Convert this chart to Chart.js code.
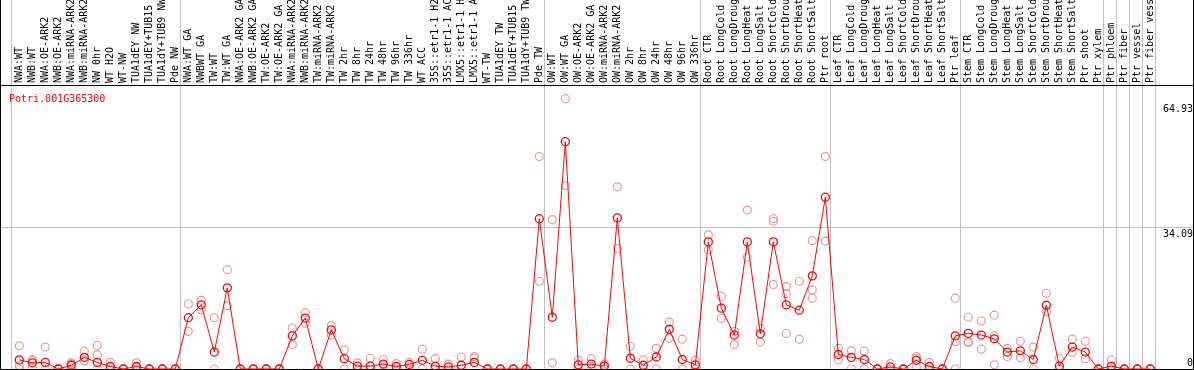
<!DOCTYPE html>
<html>
<head>
<meta charset="utf-8">
<script src="https://cdn.jsdelivr.net/npm/chart.js@4.4.0/dist/chart.umd.min.js"></script>
<style>
  body { margin: 0; background: #fff; }
  canvas { display: block; }
</style>
</head>
<body>
<canvas id="myChart" width="1194" height="370"></canvas>
<script>
const geneId = "Potri.001G365300";

const categories = [
    "NWA:WT", "NWB:WT", "NWA:OE-ARK2", "NWB:OE-ARK2", "NWA:miRNA-ARK2", "NWB:miRNA-ARK2",
    "NW 0hr", "WT H2O", "WT-NW", "TUA1dEY NW", "TUA1dEY+TUB15", "TUA1dY+TUB9 NW", "Pde NW",
    "NWA:WT GA", "NWBWT GA", "TW:WT", "TW:WT GA", "NWA:OE-ARK2 GA", "NWB:OE-ARK2 GA",
    "TW:OE-ARK2", "TW:OE-ARK2 GA", "NWA:miRNA-ARK2", "NWB:miRNA-ARK2", "TW:miRNA-ARK2",
    "TW:miRNA-ARK2", "TW 2hr", "TW 8hr", "TW 24hr", "TW 48hr", "TW 96hr", "TW 336hr",
    "WT ACC", "35S::etr1-1 H2", "35S::etr1-1 AC", "LMX5::etr1-1 H", "LMX5::etr1-1 A",
    "WT-TW", "TUA1dEY TW", "TUA1dEY+TUB15", "TUA1dY+TUB9 TW", "Pde TW",
    "OW:WT", "OW:WT GA", "OW:OE-ARK2", "OW:OE-ARK2 GA", "OW:miRNA-ARK2", "OW:miRNA-ARK2",
    "OW 2hr", "OW 8hr", "OW 24hr", "OW 48hr", "OW 96hr", "OW 336hr",
    "Root CTR", "Root LongCold", "Root LongDroug", "Root LongHeat", "Root LongSalt",
    "Root ShortCold", "Root ShortDrou", "Root ShortHeat", "Root ShortSalt", "Ptr root",
    "Leaf CTR", "Leaf LongCold", "Leaf LongDroug", "Leaf LongHeat", "Leaf LongSalt",
    "Leaf ShortCold", "Leaf ShortDrou", "Leaf ShortHeat", "Leaf ShortSalt", "Ptr leaf",
    "Stem CTR", "Stem LongCold", "Stem LongDroug", "Stem LongHeat", "Stem LongSalt",
    "Stem ShortCold", "Stem ShortDrou", "Stem ShortHeat", "Stem ShortSalt", "Ptr shoot",
    "Ptr xylem", "Ptr phloem", "Ptr fiber", "Ptr vessel", "Ptr fiber vess"
];

// mean expression (red line)
const means = [
    2.2, 1.5, 1.6, 0, 0.9, 2.8, 1.6, 0.6, 0, 0.6, 0, 0, 0,
    12.4, 15.5, 4.1, 19.6, 0, 0, 0, 0, 8.0, 12.3, 0, 9.45,
    2.5, 0.7, 0.7, 1.2, 0.6, 1.1, 2.1, 0.7, 0.5, 0.9, 1.6, 0, 0, 0, 0, 36.3,
    12.5, 54.9, 1.0, 1.2, 0.7, 36.5, 2.6, 0.9, 2.9, 9.6, 2.3, 1.0,
    30.7, 14.7, 8.2, 30.7, 8.5, 30.7, 15.5, 14.2, 22.5, 41.5,
    3.5, 2.8, 2.3, 0, 0.5, 0, 2.1, 0.6, 0, 8.0,
    8.6, 8.2, 7.3, 4.1, 4.4, 2.3, 15.4, 0.7, 5.3, 4.1,
    0, 0.7, 0, 0, 0
];

// replicates (light circles)
const rep1 = [
    5.6, 2.3, 5.3, 0, 1.5, 4.3, 5.7, 1.6, 0, 1.5, 0, 0, 0,
    15.7, 16.6, 12.4, 24.0, 0, 0, 0, 0, 9.9, 13.6, 0, 10.5,
    4.6, 1.5, 2.6, 2.3, 1.3, 1.6, 4.8, 2.5, 1.2, 2.9, 3.0, 0, 0, 0, 0, 51.3,
    36.1, 65.3, 2.2, 2.5, 1.2, 44.0, 5.5, 2.2, 5.0, 11.3, 7.2, 2.1,
    32.4, 17.6, 9.1, 38.4, 9.8, 36.3, 19.9, 21.2, 31.0, 51.3,
    5.0, 4.4, 4.3, 0, 1.3, 0, 3.0, 1.6, 0, 17.1,
    12.5, 11.6, 13.0, 5.0, 6.7, 5.3, 18.3, 2.6, 7.2, 6.7,
    0, 2.2, 0, 0, 0
];
const rep2 = [
    0.8, 2.0, 0, 0, 1.2, 2.0, 3.4, 0, 0, 0.5, 0, 0, 0,
    9.1, 14.3, 0, 15.3, 0, 0, 0, 0, 5.9, 11.1, 0, 8.2,
    0, 0, 0, 1.0, 0, 0.5, 0, 0, 0, 0, 2.6, 0, 0, 0, 0, 21.2,
    1.5, 44.3, 0, 0, 0, 29.1, 0, 0, 0, 7.4, 0, 0,
    28.8, 12.2, 5.9, 27.0, 6.5, 20.4, 8.6, 7.2, 17.1, 30.9,
    2.2, 0, 0, 0, 0, 0, 2.6, 0, 0, 6.6,
    6.6, 4.8, 1.0, 3.0, 2.7, 0, 13.9, 0, 4.0, 2.5,
    0, 0, 0, 0, 0
];
const rep3 = [
    0, 0.3, null, null, 0, 2.0, 0, null, null, 0, null, null, null,
    null, null, null, null, null, null, null, null, null, null, null, null,
    null, null, null, null, null, null, null, null, null, null, null, null, null, null, null, null,
    null, null, null, null, null, null, null, null, null, null, null, null,
    null, null, null, null, null, 35.7, 18.2, null, 19.1, null,
    null, null, null, null, null, null, 0.5, null, null, 0,
    6.3, null, 8.0, null, null, null, null, null, null, null,
    null, null, null, null, null
];

const yTicks = [0, 34.09, 64.93];
const groupStarts = [0, 13, 41, 53, 63, 73, 84, 85, 86, 87, 88];

const toPoints = arr => arr.map((v, i) => ({ x: i, y: v }));

const framePlugin = {
    id: "frame",
    beforeDraw(chart) {
        const ctx = chart.ctx;
        const xs = chart.scales.x;
        const area = chart.chartArea;
        ctx.save();
        ctx.strokeStyle = "#c0c0c0";
        ctx.lineWidth = 1;
        groupStarts.forEach(i => {
            const px = Math.round(xs.getPixelForValue(i - 0.62)) + 0.5;
            ctx.beginPath();
            ctx.moveTo(px, 0);
            ctx.lineTo(px, area.bottom);
            ctx.stroke();
        });
        ctx.restore();
    },
    afterDraw(chart) {
        const ctx = chart.ctx;
        const ys = chart.scales.y;
        const area = chart.chartArea;
        const W = chart.width;
        ctx.save();
        ctx.font = "10px 'DejaVu Sans Mono'";

        // gene name
        ctx.fillStyle = "#ff0000";
        ctx.textAlign = "left";
        ctx.textBaseline = "alphabetic";
        ctx.fillText(geneId, 9, area.top + 17);

        // value labels on the right
        ctx.fillStyle = "#000";
        ctx.textAlign = "right";
        yTicks.forEach(v => {
            let y = ys.getPixelForValue(v) + 9;
            y = Math.min(Math.max(y, area.top + 27), area.bottom - 3);
            ctx.fillText(String(v), W - 1, y);
        });

        // frame
        ctx.strokeStyle = "#000";
        ctx.lineWidth = 1;
        ctx.beginPath();
        ctx.moveTo(0.5, 0); ctx.lineTo(0.5, chart.height);
        ctx.moveTo(W - 0.5, 0); ctx.lineTo(W - 0.5, chart.height);
        ctx.moveTo(0, area.top + 0.5); ctx.lineTo(W, area.top + 0.5);
        ctx.moveTo(0, area.bottom + 0.5); ctx.lineTo(W, area.bottom + 0.5);
        ctx.stroke();
        ctx.restore();
    }
};

Chart.defaults.font.family = "'DejaVu Sans Mono'";
Chart.defaults.font.size = 10;

const repStyle = {
    showLine: false,
    pointRadius: 4,
    pointBorderWidth: 1.2,
    pointBorderColor: "#e89a9a",
    pointBackgroundColor: "rgba(0,0,0,0)",
    pointHoverRadius: 4
};

const ctx = document.getElementById("myChart").getContext("2d");
const chart = new Chart(ctx, {
    type: "line",
    data: {
        datasets: [
            {
                label: "mean",
                data: toPoints(means),
                borderColor: "#ff0000",
                borderWidth: 1,
                pointRadius: 4,
                pointBorderWidth: 1.3,
                pointBorderColor: "#ff0000",
                pointBackgroundColor: "rgba(0,0,0,0)",
                tension: 0
            },
            { label: "rep1", data: toPoints(rep1), ...repStyle },
            { label: "rep2", data: toPoints(rep2), ...repStyle },
            { label: "rep3", data: toPoints(rep3), ...repStyle }
        ]
    },
    options: {
        responsive: false,
        animation: false,
        devicePixelRatio: 1,
        layout: { autoPadding: false, padding: { top: 0, left: 0, right: 0, bottom: 1 } },
        plugins: {
            legend: { display: false },
            tooltip: { enabled: false }
        },
        scales: {
            x: {
                type: "linear",
                position: "top",
                min: -1.485,
                max: 90.36,
                afterBuildTicks: s => { s.ticks = categories.map((_, i) => ({ value: i })); },
                afterFit: s => {
                    s.height = 85;
                    s.paddingLeft = 0;
                    s.paddingRight = 0;
                },
                grid: { display: false, drawTicks: false },
                border: { display: false },
                ticks: {
                    autoSkip: false,
                    minRotation: 90,
                    maxRotation: 90,
                    padding: 2,
                    labelOffset: 10,
                    color: "#000",
                    font: { size: 10, lineHeight: 1 },
                    callback: v => categories[v]
                }
            },
            y: {
                position: "right",
                min: 0,
                max: 68.6,
                afterBuildTicks: s => { s.ticks = yTicks.map(v => ({ value: v })); },
                afterFit: s => {
                    s.width = 0;
                    s.paddingTop = 0;
                    s.paddingBottom = 0;
                },
                grid: {
                    drawTicks: false,
                    color: c => (c.tick && c.tick.value === 34.09) ? "#c0c0c0" : "rgba(0,0,0,0)"
                },
                border: { display: false },
                ticks: { display: false }
            }
        }
    },
    plugins: [framePlugin]
});
</script>
</body>
</html>
